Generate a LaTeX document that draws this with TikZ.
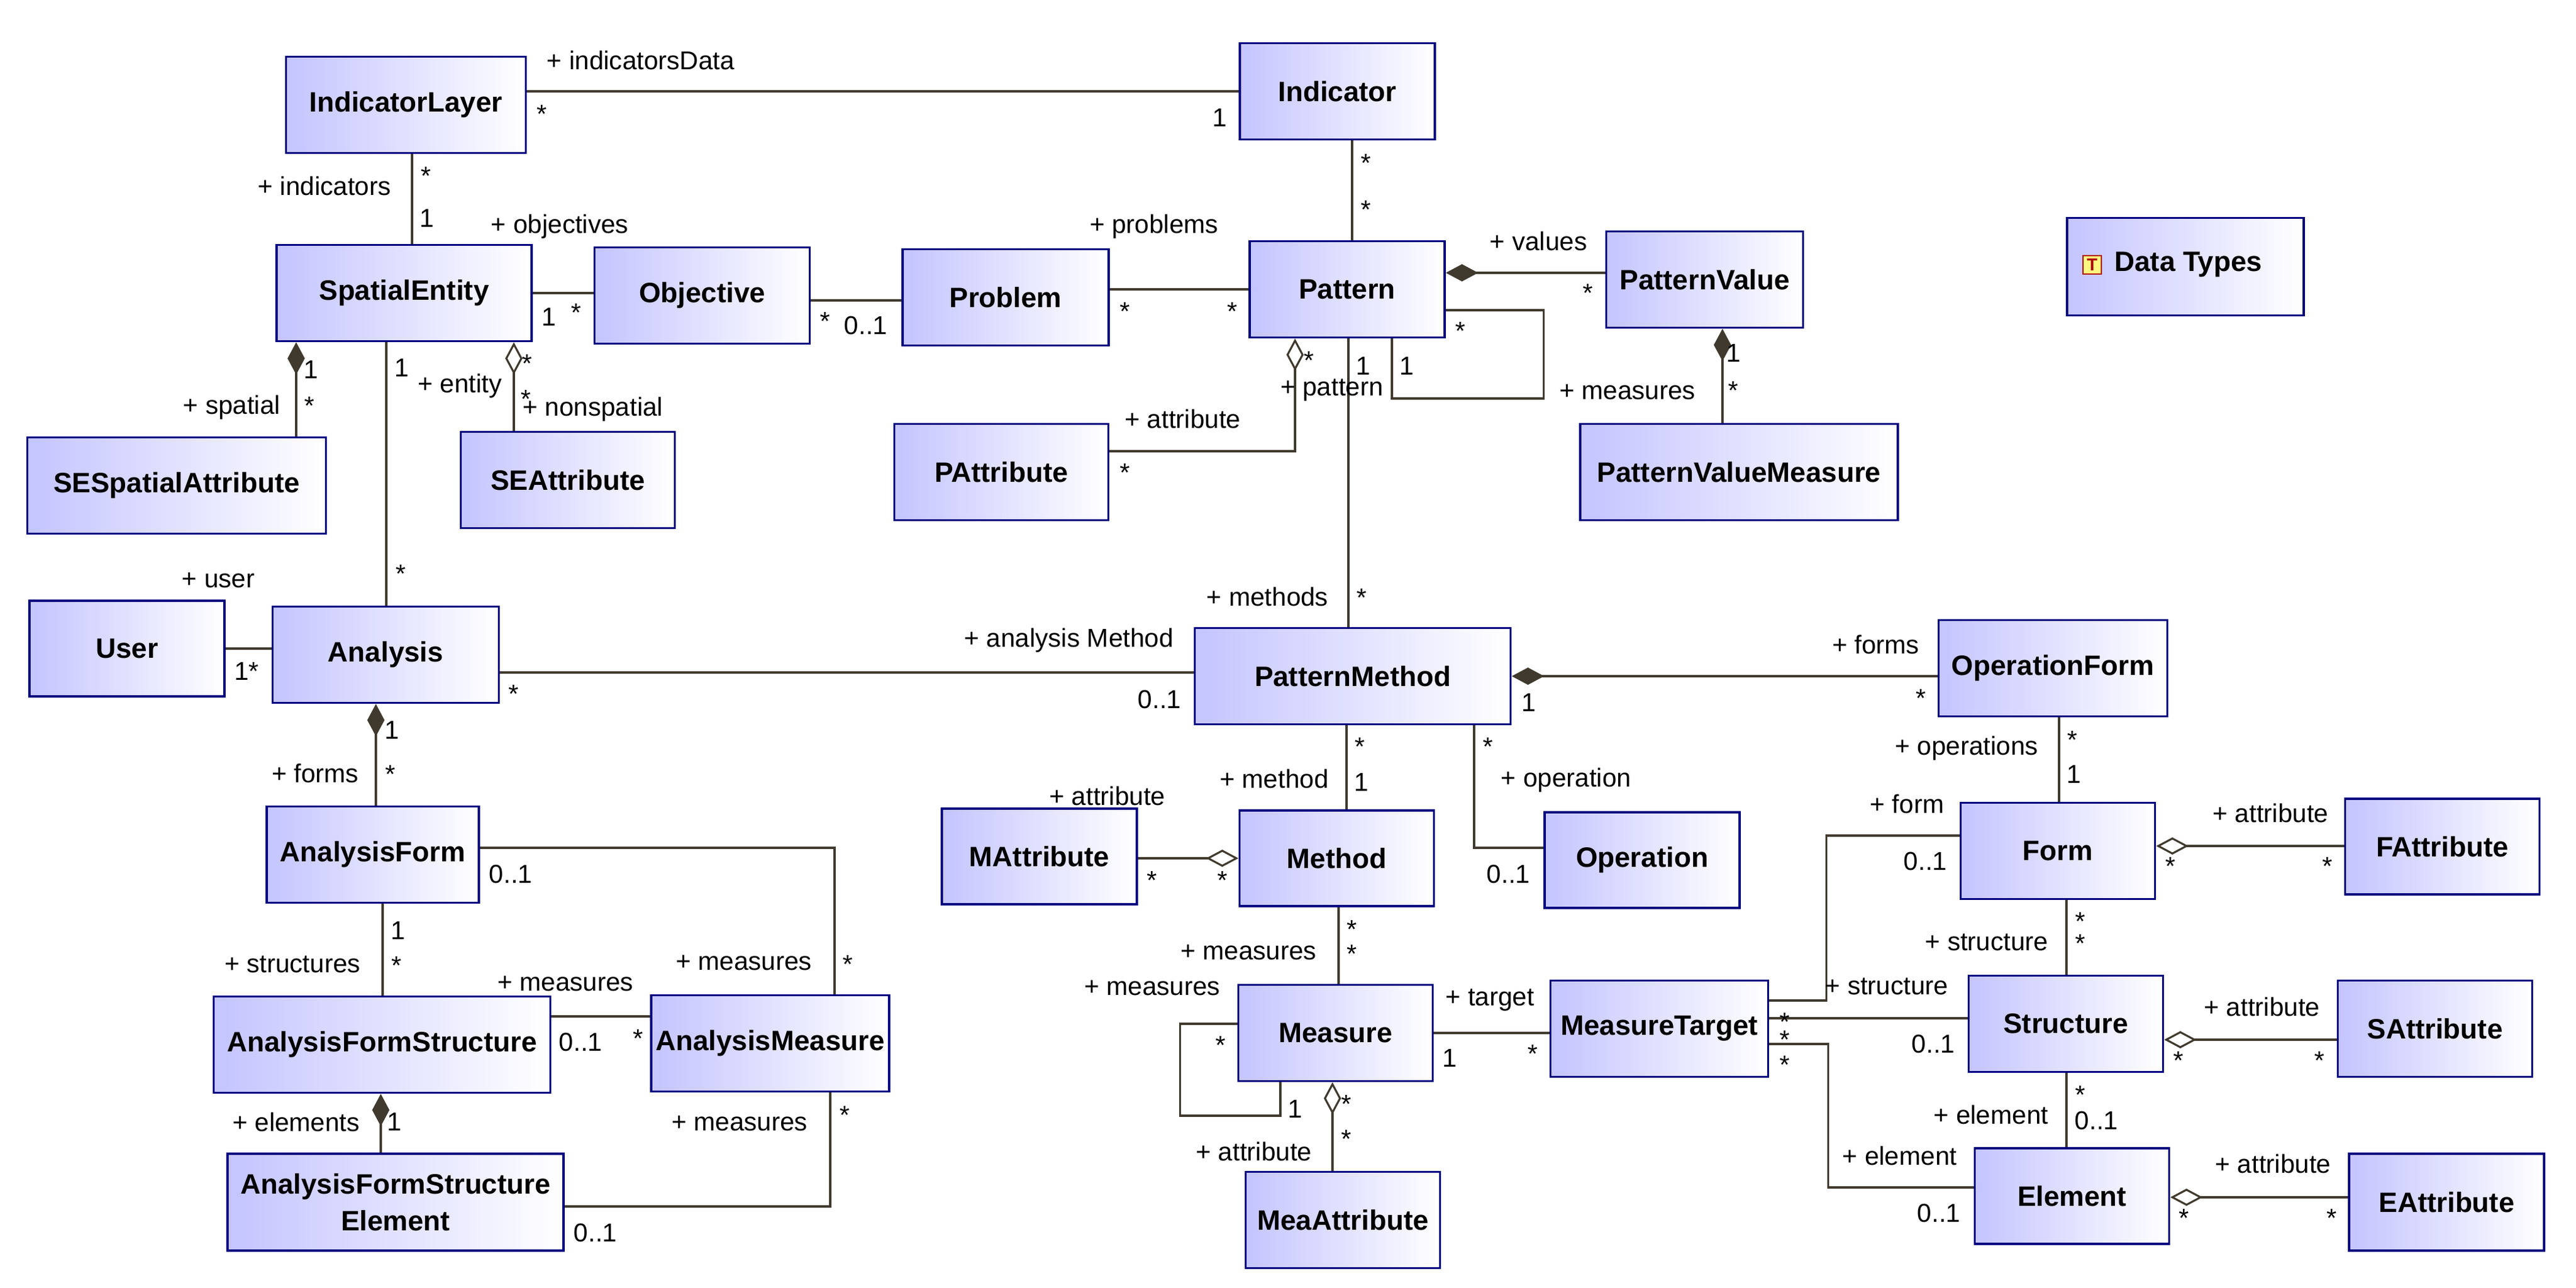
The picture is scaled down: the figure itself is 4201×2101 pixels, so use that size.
\documentclass[tikz,border=0pt]{standalone}
\usepackage{fontspec}
\setmainfont{Liberation Sans}
\usetikzlibrary{arrows.meta,calc,positioning}
\definecolor{clsblue}{RGB}{196,196,255}
\definecolor{clsedge}{RGB}{0,0,128}
\definecolor{lc}{RGB}{64,58,46}
\tikzset{
  cls/.style = {draw=clsedge, line width=1pt, left color=clsblue, right color=white, minimum height=1.57cm, align=center, inner sep=2pt, font=\fontsize{13pt}{16pt}\selectfont\bfseries},
  lab/.style = {inner sep=0pt, font=\fontsize{12pt}{14pt}\selectfont},
  assoc/.style = {draw=lc, line width=0.9pt},
  comp/.style = {assoc, {Diamond[length=15pt,width=8pt,fill=lc]}-},
  aggr/.style = {assoc, {Diamond[open,length=15pt,width=8pt,fill=white]}-}
}
\begin{document}
\begin{tikzpicture}[x=0.01cm,y=-0.01cm]
\useasboundingbox (0,0) rectangle (4201,2101);
% classes, top part
\node [cls, minimum width=3.91cm] (il) at (662,171) {IndicatorLayer};
\node [cls, minimum width=3.18cm] (ind) at (2181,149) {Indicator};
\node [cls, minimum width=4.16cm] (se) at (659,478) {SpatialEntity};
\node [cls, minimum width=3.51cm] (obj) at (1145,482) {Objective};
\node [cls, minimum width=3.36cm] (prob) at (1640,485) {Problem};
\node [cls, minimum width=3.18cm] (pat) at (2197,472) {Pattern};
\node [cls, minimum width=3.21cm] (pv) at (2780,456) {PatternValue};
\node [cls, minimum width=3.49cm] (pa) at (1633,770) {PAttribute};
\node [cls, minimum width=5.18cm] (pvm) at (2836,770) {PatternValueMeasure};
\node [cls, minimum width=4.87cm] (sesa) at (288,792) {SESpatialAttribute};
\node [cls, minimum width=3.49cm] (sea) at (926,783) {SEAttribute};
% data types package
\node [cls, minimum width=3.86cm, minimum height=1.59cm] (dt) at (3564,435) {};
\node [draw=red!70!black, fill=yellow!50, text=red!70!black, inner sep=1pt, minimum size=0.3cm, font=\fontsize{8pt}{8pt}\selectfont\bfseries] (dti) at (3412,432) {T};
\node [lab, font=\fontsize{13pt}{16pt}\selectfont\bfseries, right=0.2cm of dti] (dtt) {Data Types};
% analysis side
\node [cls, minimum width=3.18cm, minimum height=1.56cm] (usr) at (207,1058) {User};
\node [cls, minimum width=3.69cm] (ana) at (629,1068) {Analysis};
\node [cls, minimum width=3.46cm] (af) at (608,1394) {AnalysisForm};
\node [cls, minimum width=5.49cm] (afs) at (623,1704) {AnalysisFormStructure};
\node [cls, minimum width=3.73cm] (am) at (1256,1702) {AnalysisMeasure};
\node [cls, minimum width=5.48cm, minimum height=1.58cm, font=\fontsize{13pt}{17pt}\selectfont\bfseries] (afse) at (645,1961) {AnalysisFormStructure\\Element};
% method side
\node [cls, minimum width=5.15cm] (pm) at (2206,1103) {PatternMethod};
\node [cls, minimum width=3.18cm, minimum height=1.56cm] (ma) at (1695,1397) {MAttribute};
\node [cls, minimum width=3.17cm, minimum height=1.56cm] (meth) at (2180,1400) {Method};
\node [cls, minimum width=3.18cm, minimum height=1.56cm] (op) at (2678,1403) {Operation};
\node [cls, minimum width=3.17cm] (meas) at (2178,1685) {Measure};
\node [cls, minimum width=3.55cm] (mt) at (2706,1678) {MeasureTarget};
\node [cls, minimum width=3.17cm] (meaa) at (2190,1990) {MeaAttribute};
% form side
\node [cls, minimum width=3.73cm] (of) at (3348,1090) {OperationForm};
\node [cls, minimum width=3.17cm] (frm) at (3356,1388) {Form};
\node [cls, minimum width=3.17cm, minimum height=1.56cm] (fa) at (3983,1381) {FAttribute};
\node [cls, minimum width=3.17cm] (str) at (3369,1670) {Structure};
\node [cls, minimum width=3.17cm] (sa) at (3971,1678) {SAttribute};
\node [cls, minimum width=3.17cm, minimum height=1.56cm] (elem) at (3379,1951) {Element};
\node [cls, minimum width=3.18cm, minimum height=1.58cm] (ea) at (3990,1961) {EAttribute};
% associations, top part
\draw [assoc] (ind.west -| il.east) -- (ind.west);
\draw [assoc] ($(il.south)+(10,0)$) -- ($(se.north)+(13,0)$);
\draw [assoc] (se.east) -- (se.east -| obj.west);
\draw [assoc] ($(obj.east)+(0,8)$) coordinate (t) -- (t -| prob.west);
\draw [assoc] (pat.west -| prob.east) -- (pat.west);
\draw [assoc] ($(ind.south)+(24,0)$) -- ($(pat.north)+(8,0)$);
\draw [comp] ($(pat.east)+(0,-27)$) coordinate (t) -- (t -| pv.west);
\draw [assoc] ($(pat.east)+(0,34)$) -- ++(160,0) -- ++(0,144) -| ($(pat.south)+(73,0)$);
\draw [aggr] ($(pat.south)+(-85,0)$) |- ($(pa.east)+(0,-34)$);
\draw [comp] ($(pv.south)+(29,0)$) -- ($(pvm.north)+(-27,0)$);
\draw [comp] ($(se.south)+(-176,0)$) coordinate (t) -- (t |- sesa.north);
\draw [aggr] ($(se.south)+(179,0)$) coordinate (t) -- (t |- sea.north);
\draw [assoc] ($(se.south)+(-29,0)$) coordinate (t) -- (t |- ana.north);
% associations, analysis side
\draw [assoc] (usr.east) -- (usr.east -| ana.west);
\draw [assoc] ($(ana.east)+(0,29)$) coordinate (t) -- (t -| pm.west);
\draw [comp] ($(ana.south)+(-16,0)$) coordinate (t) -- (t |- af.north);
\draw [assoc] ($(af.south)+(16,0)$) coordinate (t) -- (t |- afs.north);
\draw [assoc] ($(af.east)+(0,-11)$) -| ($(am.north)+(105,0)$);
\draw [assoc] ($(afs.east)+(0,-46)$) coordinate (t) -- (t -| am.west);
\draw [comp] ($(afs.south)+(-2,0)$) coordinate (t) -- (t |- afse.north);
\draw [assoc] ($(afse.east)+(0,7)$) -| ($(am.south)+(98,0)$);
% associations, method side
\draw [assoc] ($(pat.south)+(2,0)$) coordinate (t) -- (t |- pm.north);
\draw [comp] (pm.east) -- (pm.east -| of.west);
\draw [assoc] ($(pm.south)+(-10,0)$) coordinate (t) -- (t |- meth.north);
\draw [assoc] ($(pm.south)+(198,0)$) |- ($(op.west)+(0,-20)$);
\draw [aggr] (meth.west) -- (meth.west -| ma.east);
\draw [assoc] ($(meth.south)+(3,0)$) coordinate (t) -- (t |- meas.north);
\draw [assoc] ($(meas.west)+(0,-15)$) -- ++(-93,0) -- ++(0,150) -| ($(meas.south)+(-90,0)$);
\draw [assoc] (meas.east) -- (meas.east -| mt.west);
\draw [aggr] ($(meas.south)+(-5,0)$) coordinate (t) -- (t |- meaa.north);
% associations, form side
\draw [assoc] ($(of.south)+(10,0)$) coordinate (t) -- (t |- frm.north);
\draw [assoc] ($(mt.east)+(0,-46)$) -| ($(frm.west)+(-217,-25)$) -- ($(frm.west)+(0,-25)$);
\draw [assoc] ($(mt.east)+(0,-17)$) coordinate (t) -- (t -| str.west);
\draw [assoc] ($(mt.east)+(0,25)$) -| ($(elem.west)+(-237,-14)$) -- ($(elem.west)+(0,-14)$);
\draw [aggr] ($(frm.east)+(0,-8)$) coordinate (t) -- (t -| fa.west);
\draw [assoc] ($(frm.south)+(14,0)$) coordinate (t) -- (t |- str.north);
\draw [aggr] ($(str.east)+(0,26)$) coordinate (t) -- (t -| sa.west);
\draw [assoc] ($(str.south)+(1,0)$) coordinate (t) -- (t |- elem.north);
\draw [aggr] ($(elem.east)+(0,2)$) coordinate (t) -- (t -| ea.west);
% role names and multiplicities
\foreach \n/\x/\y/\t in {
  a1/1045/98/+ indicatorsData, a2/884/186/*, a3/1989/192/1,
  b1/529/303/+ indicators, b2/695/287/*, b3/696/356/1, b4/913/370/+ objectives,
  c1/895/517/1, c2/940/510/*, c3/1346/524/*, c4/1412/531/0..1,
  d1/1882/370/+ problems, d2/1835/508/*, d3/2010/508/*,
  e1/2228/266/*, e2/2228/342/*,
  f1/2509/393/+ values, f2/2590/478/*,
  g1/2382/540/*, g2/2294/597/1, g3/2223/597/1, g4/2654/640/+ measures,
  h1/2135/588/*, h2/2172/636/+ pattern, h3/1929/683/+ attribute, h4/1835/771/*,
  i1/2827/576/1, i2/2827/637/*,
  j1/507/603/1, j2/505/662/*, j3/378/665/+ spatial,
  k1/655/600/1, k2/750/630/+ entity, k3/860/593/*, k4/967/668/+ nonspatial, k5/858/651/*,
  l1/654/936/*, l2/402/1095/1*, l3/356/947/+ user, l4/838/1132/*,
  m1/639/1191/1, m2/637/1263/*, m3/514/1261/+ forms,
  n1/649/1518/1, n2/647/1575/*, n3/477/1573/+ structures,
  o1/833/1426/0..1, o2/1383/1573/*, o3/1213/1571/+ measures,
  p1/922/1605/+ measures, p2/947/1700/0..1, p3/1041/1694/*,
  q1/483/1830/+ elements, q2/643/1830/1,
  r1/971/2011/0..1, r2/1378/1819/*, r3/1206/1833/+ measures,
  s1/2067/973/+ methods, s2/2221/975/*, s3/1743/1045/+ analysis Method, s4/1891/1141/0..1,
  s5/2493/1146/1, s6/3059/1051/+ forms, s7/3133/1139/*,
  t1/2218/1218/*, t2/2220/1276/1, t3/2078/1270/+ method,
  t4/2427/1218/*, t5/2554/1273/+ operation, t6/2460/1426/0..1,
  u1/1879/1436/*, u2/1994/1436/*, u3/1806/1298/+ attribute,
  v1/2205/1516/*, v2/2205/1556/*, v3/2036/1554/+ measures,
  w1/1879/1612/+ measures, w2/1991/1705/*, w3/2112/1809/1,
  x1/2430/1631/+ target, x2/2364/1726/1, x3/2500/1719/*,
  y1/2196/1801/*, y2/2196/1858/*, y3/2045/1878/+ attribute,
  z1/3380/1207/*, z2/3382/1263/1, z3/3207/1221/+ operations,
  z4/3110/1311/+ form, z5/3140/1405/0..1, z6/3077/1609/+ structure,
  z7/2911/1667/*, z8/2911/1696/*, z9/2911/1737/*, za/3153/1703/0..1,
  zb/3098/1885/+ element, zc/3162/1979/0..1,
  zd/3540/1413/*, ze/3796/1413/*, zf/3703/1326/+ attribute,
  zg/3393/1503/*, zh/3393/1539/*, zi/3240/1537/+ structure,
  zj/3553/1730/*, zk/3783/1730/*, zl/3689/1642/+ attribute,
  zm/3393/1786/*, zn/3419/1828/0..1, zo/3247/1818/+ element,
  zp/3562/1987/*, zq/3803/1987/*, zr/3707/1898/+ attribute}
  \node [lab] (\n) at (\x,\y) {\t};
\end{tikzpicture}
\end{document}
